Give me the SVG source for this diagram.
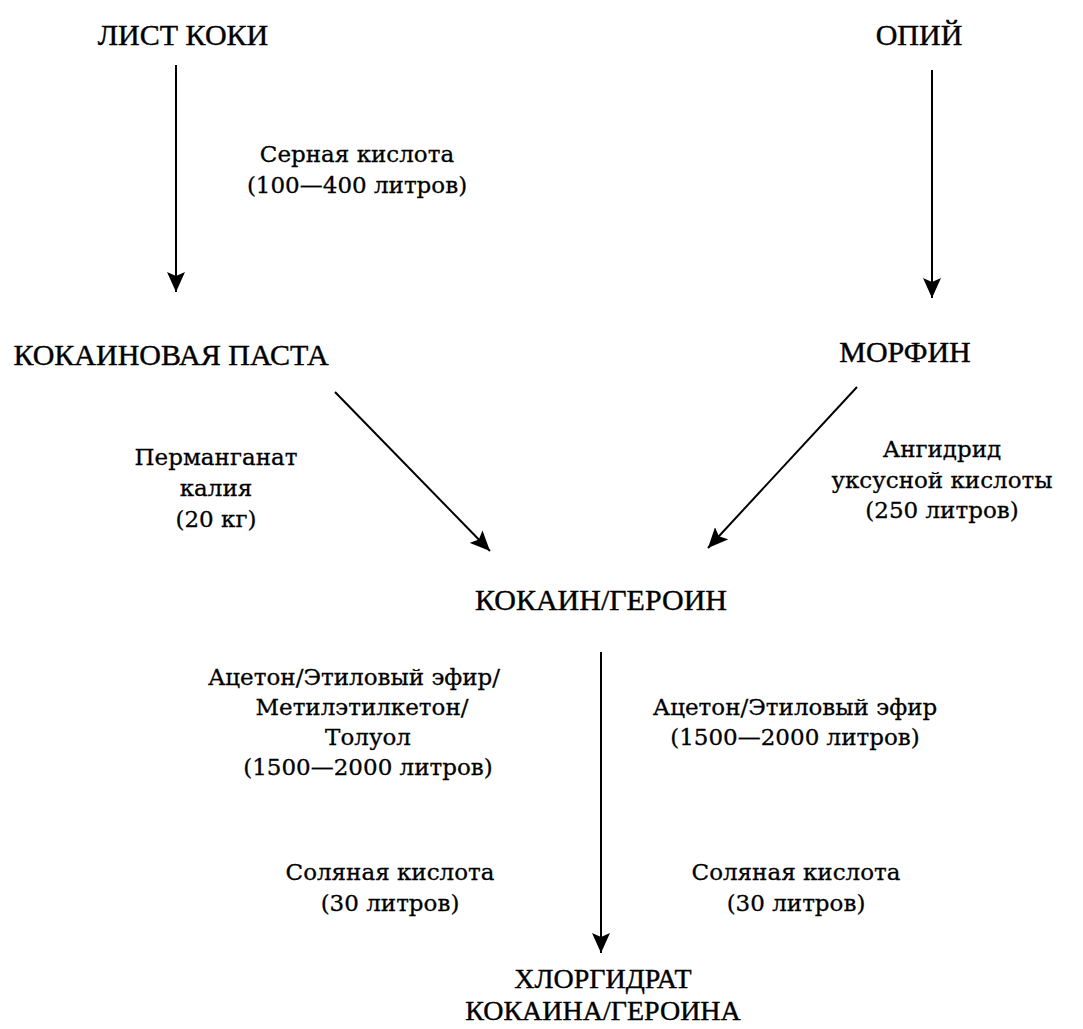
<svg xmlns="http://www.w3.org/2000/svg" width="1083" height="1029" viewBox="0 0 1083 1029">
<defs>
<style>
text { fill: #000; text-anchor: middle; stroke: #000; stroke-width: 0.4; }
.node { font-family: "Liberation Serif", "Times New Roman", serif; font-size: 30px; }
.node2 { font-family: "Liberation Serif", "Times New Roman", serif; font-size: 28px; }
.lbl { font-family: "DejaVu Serif", "Liberation Serif", serif; font-size: 23px; stroke-width: 0.3; }
.edge { stroke: #000; stroke-width: 2; fill: none; marker-end: url(#ah); }
</style>
<marker id="ah" viewBox="0 0 20 18" refX="20" refY="9" markerWidth="20" markerHeight="18" markerUnits="userSpaceOnUse" orient="auto">
<path d="M0,0 L20,9 L0,18 L4,9 Z" fill="#000"/>
</marker>
</defs>
<rect width="1083" height="1029" fill="#fff"/>
<g id="connectors">
<line class="edge" x1="176" y1="65" x2="176" y2="292"/>
<line class="edge" x1="932" y1="70" x2="932" y2="298"/>
<line class="edge" x1="335" y1="392" x2="490" y2="551"/>
<line class="edge" x1="857" y1="387" x2="708" y2="548"/>
<line class="edge" x1="601" y1="652" x2="601" y2="953"/>
</g>
<g id="n-list-koki"><text class="node" x="183" y="45">ЛИСТ КОКИ</text></g>
<g id="n-opiy"><text class="node" x="919" y="45">ОПИЙ</text></g>
<g id="l-sernaya"><text class="lbl" x="357" y="162">Серная кислота</text><text class="lbl" x="357" y="193">(100—400 литров)</text></g>
<g id="n-pasta"><text class="node" x="171" y="365">КОКАИНОВАЯ ПАСТА</text></g>
<g id="n-morfin"><text class="node" x="905" y="362">МОРФИН</text></g>
<g id="l-permanganat"><text class="lbl" x="216" y="465">Перманганат</text><text class="lbl" x="216" y="496">калия</text><text class="lbl" x="216" y="527">(20 кг)</text></g>
<g id="l-angidrid"><text class="lbl" x="942" y="457">Ангидрид</text><text class="lbl" x="942" y="488">уксусной кислоты</text><text class="lbl" x="942" y="518">(250 литров)</text></g>
<g id="n-kokain-geroin"><text class="node" x="601" y="610">КОКАИН/ГЕРОИН</text></g>
<g id="l-aceton-left"><text class="lbl" x="354" y="685">Ацетон/Этиловый эфир/</text><text class="lbl" x="362" y="715">Метилэтилкетон/</text><text class="lbl" x="368" y="745">Толуол</text><text class="lbl" x="368" y="775">(1500—2000 литров)</text></g>
<g id="l-aceton-right"><text class="lbl" x="795" y="715">Ацетон/Этиловый эфир</text><text class="lbl" x="795" y="745">(1500—2000 литров)</text></g>
<g id="l-solyanaya-left"><text class="lbl" x="390" y="880">Соляная кислота</text><text class="lbl" x="390" y="911">(30 литров)</text></g>
<g id="l-solyanaya-right"><text class="lbl" x="796" y="880">Соляная кислота</text><text class="lbl" x="796" y="911">(30 литров)</text></g>
<g id="n-hlorgidrat"><text class="node2" x="603" y="988">ХЛОРГИДРАТ</text><text class="node2" x="603" y="1020">КОКАИНА/ГЕРОИНА</text></g>
</svg>
